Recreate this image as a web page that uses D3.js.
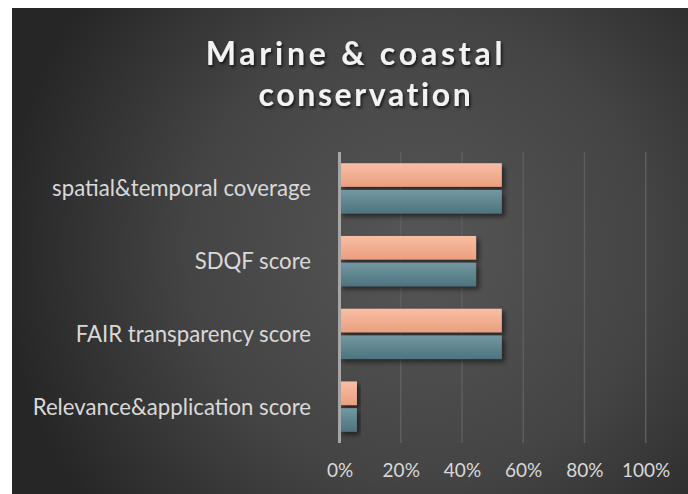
<!DOCTYPE html>
<html><head><meta charset="utf-8">
<script src="https://cdn.jsdelivr.net/npm/d3@7"></script>
<style>
html,body{margin:0;padding:0;background:#fff;}
svg{display:block;}
</style></head>
<body>
<svg id="chart" width="688" height="494"></svg>
<script>
const titleLines = ["Marine & coastal", "conservation"];
const categories = ["spatial&temporal coverage", "SDQF score", "FAIR transparency score", "Relevance&application score"];
const seriesNames = ["Series A", "Series B"];
const seriesA = [0.53, 0.446, 0.53, 0.057];
const seriesB = [0.53, 0.446, 0.53, 0.057];
const tickValues = [0, 0.2, 0.4, 0.6, 0.8, 1.0];

const svg = d3.select("#chart");
const W = 688, H = 494;
const bgX = 12, bgY = 8;

const defs = svg.append("defs");
const rg = defs.append("radialGradient").attr("id","bg")
  .attr("gradientUnits","userSpaceOnUse").attr("cx",420).attr("cy",250).attr("r",420);
rg.append("stop").attr("offset","0%").attr("stop-color","#565656");
rg.append("stop").attr("offset","55%").attr("stop-color","#444444");
rg.append("stop").attr("offset","100%").attr("stop-color","#262626");

const og = defs.append("linearGradient").attr("id","gA").attr("x1",0).attr("y1",0).attr("x2",0).attr("y2",1);
og.append("stop").attr("offset","0%").attr("stop-color","#f9bea4");
og.append("stop").attr("offset","100%").attr("stop-color","#ea9f7e");
const tg = defs.append("linearGradient").attr("id","gB").attr("x1",0).attr("y1",0).attr("x2",0).attr("y2",1);
tg.append("stop").attr("offset","0%").attr("stop-color","#7398a2");
tg.append("stop").attr("offset","100%").attr("stop-color","#4d737e");

const sh = defs.append("filter").attr("id","shadow").attr("x","-10%").attr("y","-30%").attr("width","130%").attr("height","180%");
sh.append("feDropShadow").attr("dx",3).attr("dy",3).attr("stdDeviation",2.5).attr("flood-color","#000").attr("flood-opacity",0.55);
const tsh = defs.append("filter").attr("id","tshadow").attr("x","-10%").attr("y","-30%").attr("width","130%").attr("height","180%");
tsh.append("feDropShadow").attr("dx",1.5).attr("dy",2).attr("stdDeviation",1.8).attr("flood-color","#000").attr("flood-opacity",0.7);

svg.append("rect").attr("x",bgX).attr("y",bgY).attr("width",W-bgX).attr("height",H-bgY).attr("fill","url(#bg)");

// title
svg.append("g").selectAll("text").data(titleLines).join("text")
  .attr("x",(d,i)=> i===0 ? 356 : 366).attr("y",(d,i)=>65 + i*41)
  .attr("text-anchor","middle")
  .attr("font-family","Lato, 'Open Sans', sans-serif")
  .attr("font-weight","700")
  .attr("font-size",32)
  .attr("letter-spacing",(d,i)=> i===0 ? 3.8 : 2.6)
  .attr("fill","#f2f2f2")
  .attr("filter","url(#tshadow)")
  .text(d=>d);

const x0 = 339.5, x1 = 645.7, yTop = 152, yBot = 443;
const x = d3.scaleLinear().domain([0,1]).range([x0,x1]);
const y = d3.scaleBand().domain(categories).range([yTop,yBot]).paddingInner(0).paddingOuter(0);
const inner = d3.scaleBand().domain(seriesNames).range([0,y.bandwidth()]).paddingInner(0.115).paddingOuter(0.42);

// gridlines
svg.append("g").selectAll("line").data(tickValues.slice(1)).join("line")
  .attr("x1",d=>x(d)).attr("x2",d=>x(d)).attr("y1",yTop).attr("y2",yBot)
  .attr("stroke","#5e5e5e").attr("stroke-width",1.5);

// bars
const rows = categories.map((c,i)=>({c, vals:[seriesA[i], seriesB[i]]}));
const g = svg.append("g");
rows.forEach(r=>{
  r.vals.forEach((v,j)=>{
    g.append("rect")
      .attr("x",x(0)).attr("y",y(r.c)+inner(seriesNames[j]))
      .attr("width",x(v)-x(0)).attr("height",inner.bandwidth())
      .attr("fill", j===0 ? "url(#gA)" : "url(#gB)")
      .attr("filter","url(#shadow)");
  });
});

// axis line
svg.append("line").attr("x1",x(0)).attr("x2",x(0)).attr("y1",yTop).attr("y2",yBot)
  .attr("stroke","#a6a6a6").attr("stroke-width",3);

// category labels
svg.append("g").selectAll("text").data(categories).join("text")
  .attr("x",311).attr("y",d=>y(d)+y.bandwidth()/2+8)
  .attr("text-anchor","end")
  .attr("font-family","Lato, 'Open Sans', sans-serif")
  .attr("font-size",22.2)
  .attr("fill","#d9d9d9")
  .text(d=>d);

// tick labels
const xAxis = d3.axisBottom(x).tickValues(tickValues).tickFormat(d3.format(".0%")).tickSize(0);
const ax = svg.append("g").attr("transform",`translate(0,${yBot})`).call(xAxis);
ax.select(".domain").remove();
ax.selectAll("text")
  .attr("y",33.5).attr("dy",0)
  .attr("font-family","Lato, 'Open Sans', sans-serif")
  .attr("font-size",19)
  .attr("fill","#d9d9d9");
</script>
</body></html>
